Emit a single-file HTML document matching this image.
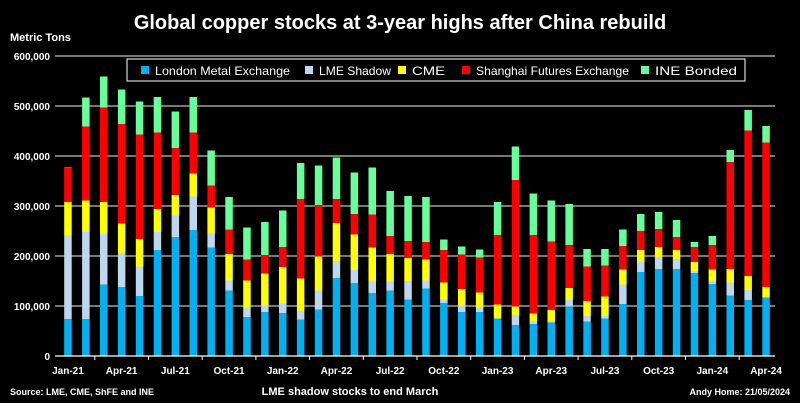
<!DOCTYPE html>
<html><head><meta charset="utf-8">
<style>
html,body{margin:0;padding:0;background:#000;}
svg{display:block;font-family:"Liberation Sans",sans-serif;}
</style></head>
<body>
<svg id="chart" width="800" height="403" viewBox="0 0 800 403" xmlns="http://www.w3.org/2000/svg">
<rect width="800" height="403" fill="#000"/>
<text x="400" y="29" fill="#fff" font-size="20" font-weight="bold" text-anchor="middle">Global copper stocks at 3-year highs after China rebuild</text>
<text x="10" y="41" fill="#fff" font-size="11" font-weight="bold">Metric Tons</text>
<g id="grid"></g>
<g id="bars"></g>
<g id="axes"></g>
<g id="legend">
<rect x="127" y="59" width="618" height="22" fill="#000" stroke="#fff" stroke-width="1"/>
</g>
<text x="10" y="395" fill="#fff" font-size="9" font-weight="bold">Source: LME, CME, ShFE and INE</text>
<text x="350" y="395" fill="#fff" font-size="11" font-weight="bold" text-anchor="middle">LME shadow stocks to end March</text>
<text x="790" y="395" fill="#fff" font-size="9" font-weight="bold" text-anchor="end">Andy Home: 21/05/2024</text>
</svg>
<script>
const months = ["Jan-21","Feb-21","Mar-21","Apr-21","May-21","Jun-21","Jul-21","Aug-21","Sep-21","Oct-21","Nov-21","Dec-21","Jan-22","Feb-22","Mar-22","Apr-22","May-22","Jun-22","Jul-22","Aug-22","Sep-22","Oct-22","Nov-22","Dec-22","Jan-23","Feb-23","Mar-23","Apr-23","May-23","Jun-23","Jul-23","Aug-23","Sep-23","Oct-23","Nov-23","Dec-23","Jan-24","Feb-24","Mar-24","Apr-24"];
const lme = [74,74,143,138,120,212,238,252,217,131,78,88,86,73,93,156,146,126,131,113,135,106,88,88,75,62,64,67,99,69,75,104,168,174,174,166,144,121,112,117];
const lmeShadow = [167,174,101,67,59,36,43,67,28,20,19,13,19,17,38,34,26,23,18,37,16,7,13,9,0,20,6,3,13,11,5,39,20,24,20,4,6,26,20,0];
const cme = [67,63,64,60,55,46,41,46,52,53,54,64,73,65,68,76,71,68,55,46,42,34,33,30,28,17,15,22,24,30,39,30,24,20,18,18,23,27,28,21];
const shfe = [68,148,189,199,209,153,94,82,44,49,42,37,40,159,103,48,41,66,36,34,35,65,69,70,139,253,157,137,86,69,62,47,38,36,26,30,49,214,291,289];
const ine = [1,58,62,69,66,71,73,71,70,65,64,66,73,72,79,83,83,94,90,90,90,21,16,16,66,67,83,82,82,35,33,33,34,34,34,10,18,24,41,33];
const yTicks = [0,100000,200000,300000,400000,500000,600000];
const seriesNames = ["London Metal Exchange","LME Shadow","CME","Shanghai Futures Exchange","INE Bonded"];
const seriesColors = ["#00b0f0","#bdd7ee","#ffff00","#ff0000","#66ff99"];
const NS="http://www.w3.org/2000/svg";
const X0=59, X1=775, Y0=356, Y1=56, YMAX=600000;
const y = v => Y0 - v/YMAX*(Y0-Y1);
const step=(X1-X0)/months.length;
const xc = i => X0 + step*(i+0.5);
function mk(tag,attrs,parent){const e=document.createElementNS(NS,tag);for(const k in attrs)e.setAttribute(k,attrs[k]);parent.appendChild(e);return e;}
const grid=document.getElementById('grid'), bars=document.getElementById('bars'), axes=document.getElementById('axes');
yTicks.forEach(t=>{
  if(t>0){const l=mk('line',{x1:X0-4,x2:X1,y1:y(t),y2:y(t),stroke:'#bfbfbf','stroke-width':1.3},grid);
  
  }
  const tx=mk('text',{x:50,y:y(t)+4,fill:'#fff','font-size':10,'font-weight':'bold','text-anchor':'end'},axes);
  tx.textContent=t.toLocaleString('en-US');
  
  
});
const series=[lme,lmeShadow,cme,shfe,ine];
const bw=7.5;
months.forEach((m,i)=>{
  let cum=0;
  series.forEach((s,k)=>{
    const v=s[i]*1000;
    if(v>0){
      const r=mk('rect',{x:xc(i)-bw/2,y:y(cum+v),width:bw,height:y(cum)-y(cum+v),fill:seriesColors[k]},bars);
      
      
    }
    cum+=v;
  });
  if(i%3===0){
    const tx=mk('text',{x:xc(i),y:374,fill:'#fff','font-size':10,'font-weight':'bold','text-anchor':'middle'},axes);
    tx.textContent=m;
    
    
    if(i>0){const tk=mk('line',{x1:X0+step*(i-1),x2:X0+step*(i-1),y1:Y0,y2:Y0+4,stroke:'#fff'},axes);
    
    }
  }
});
const ax=mk('line',{x1:X0-4,x2:X1,y1:Y0,y2:Y0,stroke:'#fff','stroke-width':1.3},axes);


const leg=document.getElementById('legend');
const legX=[141,305,398,462,641];
const legW=[135,72,33,153,82];
seriesNames.forEach((n,k)=>{
  const sw=mk('rect',{x:legX[k],y:66,width:8,height:8,fill:seriesColors[k]},leg);
  
  
  const t=mk('text',{x:legX[k]+14,y:75,fill:'#fff','font-size':12,textLength:legW[k],lengthAdjust:'spacingAndGlyphs'},leg);
  t.textContent=n;
  
  
});
</script>
</body></html>
